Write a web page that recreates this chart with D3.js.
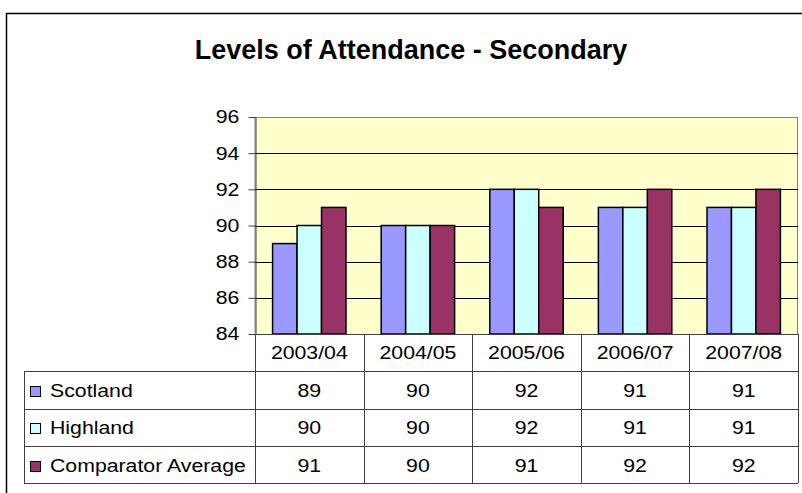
<!DOCTYPE html>
<html>
<head>
<meta charset="utf-8">
<script src="https://cdn.jsdelivr.net/npm/d3@7"></script>
<style>
  body { margin: 0; background: #fff; }
  text { font-family: "Liberation Sans", Arial, sans-serif; fill: #000; }
</style>
</head>
<body>
<div id="chart"></div>
<script>
var years = ["2003/04", "2004/05", "2005/06", "2006/07", "2007/08"];
var seriesNames = ["Scotland", "Highland", "Comparator Average"];
var scotland = [89, 90, 92, 91, 91];
var highland = [90, 90, 92, 91, 91];
var comparator = [91, 90, 91, 92, 92];
var yTicks = [84, 86, 88, 90, 92, 94, 96];
var colors = ["#9999ff", "#ccffff", "#993366"];

var series = [scotland, highland, comparator];

const width = 802, height = 493;
const plotLeft = 255, plotRight = 798, plotTop = 117, plotBottom = 334;
const rowH = 37.3, tableLeft = 24;
const fs = '18.5px', stretch = 1.15;

// text in the original is a bit wider than plain Arial, so stretch it
function put(sel, x, y) {
    return sel.attr('transform', 'translate(' + x + ',' + y + ') scale(' + stretch + ',1)');
}

var svg = d3.select('#chart')
    .append('svg')
    .attr('width', width)
    .attr('height', height);

// outer frame (runs off the right/bottom edge like the original)
svg.append('rect')
    .attr('x', 6.5).attr('y', 13.5)
    .attr('width', 900).attr('height', 600)
    .style('fill', 'none').style('stroke', '#000').style('stroke-width', 1.5);

svg.append('text')
    .attr('x', 411).attr('y', 59)
    .attr('text-anchor', 'middle')
    .style('font-size', '27px').style('font-weight', 'bold')
    .text("Levels of Attendance - Secondary");

var x0 = d3.scaleBand().domain(years).range([plotLeft, plotRight]);
var bw = x0.bandwidth();
var x1 = d3.scaleBand().domain(d3.range(seriesNames.length))
    .range([bw * 0.162, bw * 0.838]);
var y = d3.scaleLinear().domain([84, 96]).range([plotBottom, plotTop]);

// plot background
svg.append('rect')
    .attr('x', plotLeft).attr('y', plotTop + 0.5)
    .attr('width', plotRight - plotLeft - 0.5).attr('height', plotBottom - plotTop)
    .style('fill', '#ffffcc').style('stroke', '#808080');

// gridlines
svg.append('g').selectAll('line')
    .data(yTicks.filter(function(d) { return d > 84 && d < 96; }))
    .enter().append('line')
    .attr('x1', plotLeft).attr('x2', plotRight)
    .attr('y1', function(d) { return Math.round(y(d)) + 0.5; })
    .attr('y2', function(d) { return Math.round(y(d)) + 0.5; })
    .style('stroke', '#000');

// bars
var groups = svg.append('g').selectAll('g')
    .data(years)
    .enter().append('g')
    .attr('transform', function(d) { return 'translate(' + x0(d) + ',0)'; });

groups.selectAll('rect')
    .data(function(d, i) { return series.map(function(s, k) { return { k: k, v: s[i] }; }); })
    .enter().append('rect')
    .attr('x', function(d) { return x1(d.k); })
    .attr('width', x1.bandwidth())
    .attr('y', function(d) { return y(d.v); })
    .attr('height', function(d) { return plotBottom - y(d.v); })
    .style('fill', function(d) { return colors[d.k]; })
    .style('stroke', '#000').style('stroke-width', 1.5);

// y axis
var yAxis = svg.append('g')
    .attr('transform', 'translate(' + (plotLeft + 0.5) + ',0)')
    .call(d3.axisLeft(y).tickValues(yTicks).tickSize(7).tickSizeOuter(0).tickPadding(7));
yAxis.selectAll('text')
    .style('font-size', fs)
    .style('font-family', '"Liberation Sans", Arial, sans-serif')
    .attr('transform', 'scale(' + stretch + ',1)');
yAxis.selectAll('line, path').style('stroke', '#404040');

// data table
var table = svg.append('g').style('stroke', '#404040');
var rowsY = [plotBottom, plotBottom + rowH, plotBottom + 2 * rowH, plotBottom + 3 * rowH, plotBottom + 4 * rowH];

table.selectAll('.hline')
    .data(rowsY.slice(1))
    .enter().append('line')
    .attr('x1', tableLeft).attr('x2', plotRight)
    .attr('y1', function(d) { return Math.round(d) + 0.5; })
    .attr('y2', function(d) { return Math.round(d) + 0.5; });

table.append('line')
    .attr('x1', plotLeft).attr('x2', plotRight)
    .attr('y1', plotBottom + 0.5).attr('y2', plotBottom + 0.5);

table.selectAll('.vline')
    .data(years.map(function(d) { return x0(d); }).concat([plotRight]))
    .enter().append('line')
    .attr('x1', function(d) { return Math.round(d) + 0.5; })
    .attr('x2', function(d) { return Math.round(d) + 0.5; })
    .attr('y1', plotBottom).attr('y2', rowsY[4]);

table.append('line')
    .attr('x1', tableLeft + 0.5).attr('x2', tableLeft + 0.5)
    .attr('y1', rowsY[1]).attr('y2', rowsY[4]);

svg.append('g').selectAll('text')
    .data(years)
    .enter().append('text')
    .attr('text-anchor', 'middle')
    .style('font-size', fs)
    .each(function(d) { put(d3.select(this), x0(d) + bw / 2, plotBottom + rowH / 2 + 6.5); })
    .text(function(d) { return d; });

seriesNames.forEach(function(name, k) {
    var cy = rowsY[k + 1] + rowH / 2;
    svg.append('rect')
        .attr('x', 30.5).attr('y', Math.round(cy - 4) + 0.5)
        .attr('width', 10).attr('height', 10)
        .style('fill', colors[k]).style('stroke', '#000');
    put(svg.append('text'), 50, cy + 7)
        .style('font-size', fs)
        .text(name);
    svg.append('g').selectAll('text')
        .data(series[k])
        .enter().append('text')
        .attr('text-anchor', 'middle')
        .style('font-size', fs)
        .each(function(d, i) { put(d3.select(this), x0(years[i]) + bw / 2, cy + 7); })
        .text(function(d) { return d; });
});
</script>
</body>
</html>
